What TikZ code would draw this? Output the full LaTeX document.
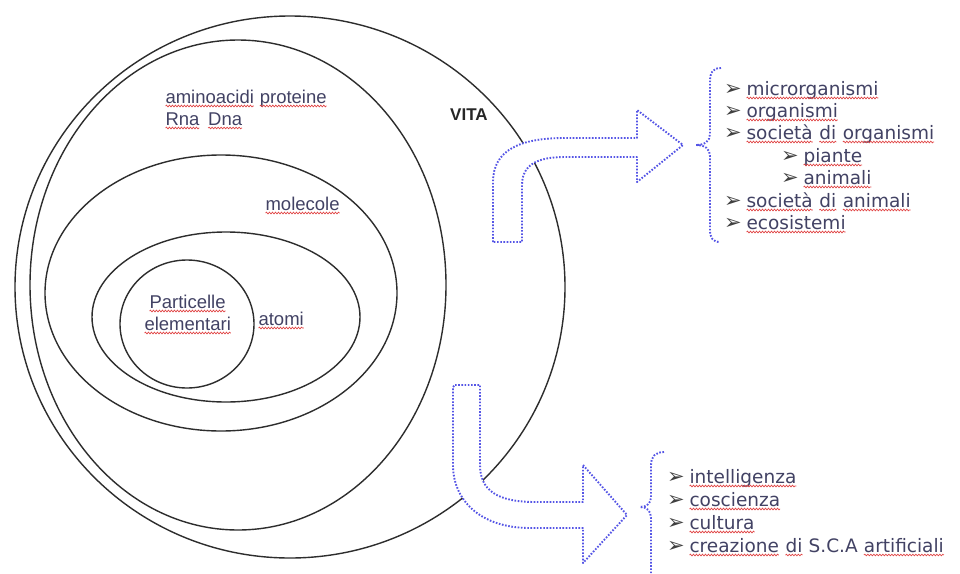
\documentclass[tikz,border=0pt]{standalone}
\usepackage{fontspec}
\setmainfont{Liberation Sans}
\newfontfamily\verd{DejaVu Sans}
\usetikzlibrary{decorations.pathmorphing}
\definecolor{txt}{RGB}{66,66,100}
\definecolor{ringc}{RGB}{45,45,45}
\definecolor{arrowc}{RGB}{85,85,230}
\definecolor{wavec}{RGB}{225,70,70}
\newcommand\sq[1]{\tikz[baseline=(w.base)]{\node[inner sep=0pt, outer sep=0pt, anchor=base, text=txt] (w) {#1};
  \draw[wavec, line width=0.7pt, decorate, decoration={snake, amplitude=0.8pt, segment length=3pt}]
   ([yshift=-3pt]w.base west) -- ([yshift=-3pt]w.base east);}}
\newcommand\itm[1]{\makebox[22pt][l]{\raisebox{0pt}{\color{black!75}\fontsize{21}{21}\selectfont ➢}}#1}
\tikzset{
  ring/.style={draw=ringc, line width=1.4pt},
  blk/.style={draw=arrowc, line width=1.9pt, dash pattern=on 1.6pt off 1.6pt, line join=round},
  lbl/.style={anchor=base west, inner sep=0pt, font=\fontsize{18.5}{20}\selectfont, text=txt},
  item/.style={anchor=base west, inner sep=0pt, font=\verd\fontsize{18.5}{20}\selectfont, text=txt},
}
\begin{document}
\begin{tikzpicture}[x=1pt,y=-1pt]
\useasboundingbox[fill=white] (0,0) rectangle (960,573);
% rings
\draw[ring] (290,287) ellipse [x radius=275, y radius=271];
\draw[ring] (238,285) ellipse [x radius=208, y radius=245];
\draw[ring] (221,293) ellipse [x radius=176, y radius=138];
\draw[ring] (226,317) ellipse [x radius=134, y radius=85];
\draw[ring] (187,324) ellipse [x radius=67, y radius=64];
% ring labels
\node[lbl] (amino) at (165,103) {\sq{aminoacidi} \sq{proteine}};
\node[lbl] (rna) at (165,125) {\sq{Rna}\hspace{8pt}\sq{Dna}};
\node[lbl, font=\bfseries\fontsize{17}{20}\selectfont, text=black!85] (vita) at (450,120) {VITA};
\node[lbl] (mol) at (265,210) {\sq{molecole}};
\node[lbl] (part) at (149,308) {\sq{Particelle}};
\node[lbl] (elem) at (144,330) {\sq{elementari}};
\node[lbl] (atomi) at (258,325) {\sq{atomi}};
% top bent arrow
\draw[blk, fill=white] (493,242) -- (493,182) .. controls (493,150) and (520,138) .. (565,138)
  -- (637,138) -- (637,110) -- (683,145) -- (637,182) -- (637,157) -- (565,157)
  .. controls (537,157) and (522,165) .. (522,185) -- (522,242) -- cycle;
% bottom bent arrow
\draw[blk, fill=white] (455,385) -- (480,385) -- (480,465) .. controls (480,490) and (497,502) .. (535,502)
  -- (583,502) -- (583,465) -- (627,515) -- (583,563) -- (583,528) -- (530,528)
  .. controls (480,528) and (453,500) .. (453,465) -- (453,387) -- cycle;
% braces
\draw[blk] (721,68) .. controls (713,68) and (710,72) .. (710,82) -- (710,134)
  .. controls (710,141) and (705,145) .. (696,145)
  .. controls (705,145) and (710,149) .. (710,156) -- (710,230)
  .. controls (710,238) and (713,242) .. (720,242);
\draw[blk] (664,452) .. controls (656,452) and (651,456) .. (651,465) -- (651,497)
  .. controls (651,503) and (647,507) .. (640,507)
  .. controls (647,507) and (651,511) .. (651,518) -- (651,573);
% top list
\node[item] (i1) at (724,95) {\itm{\sq{microrganismi}}};
\node[item] (i2) at (724,117) {\itm{\sq{organismi}}};
\node[item] (i3) at (724,139) {\itm{\sq{società} \sq{di} \sq{organismi}}};
\node[item] (i4) at (781,162) {\itm{\sq{piante}}};
\node[item] (i5) at (781,184) {\itm{\sq{animali}}};
\node[item] (i6) at (724,207) {\itm{\sq{società} \sq{di} \sq{animali}}};
\node[item] (i7) at (724,229) {\itm{\sq{ecosistemi}}};
% bottom list
\node[item] (j1) at (667,483) {\itm{\sq{intelligenza}}};
\node[item] (j2) at (667,506) {\itm{\sq{coscienza}}};
\node[item] (j3) at (667,529) {\itm{\sq{cultura}}};
\node[item] (j4) at (667,552) {\itm{\sq{creazione} \sq{di} S.C.A \sq{artificiali}}};
\end{tikzpicture}
\end{document}
